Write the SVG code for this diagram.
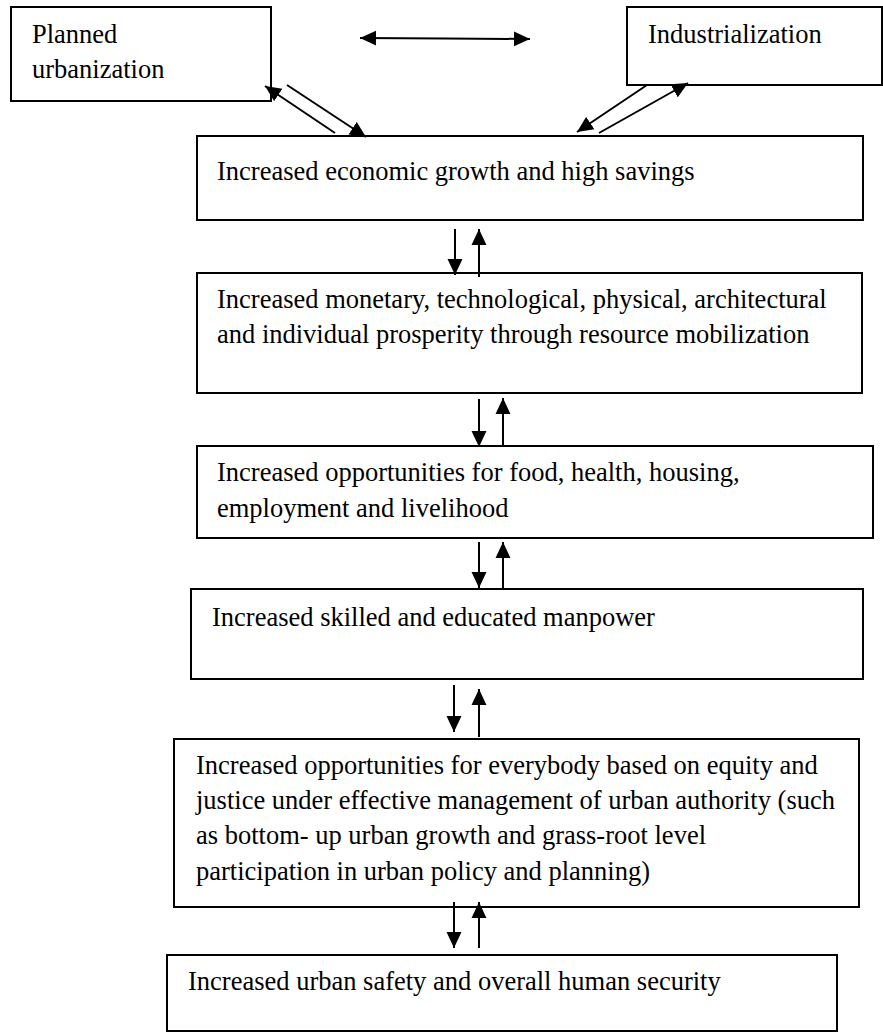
<svg xmlns="http://www.w3.org/2000/svg" width="883" height="1032" viewBox="0 0 883 1032">
<style>
.box{fill:#fff;stroke:#000;stroke-width:2}
.t{font-family:"Liberation Serif","Times New Roman",serif;font-size:26.5px;fill:#000}
.c{stroke:#000;stroke-width:2;fill:none}
</style>
<defs>
<marker id="ah" markerUnits="userSpaceOnUse" markerWidth="16" markerHeight="16" viewBox="0 0 15 14" refX="15" refY="7" orient="auto">
<path d="M0,0 L15,7 L0,14 z" fill="#000"/>
</marker>
</defs>
<rect width="883" height="1032" fill="#fff"/>
<g id="n-planned">
<rect class="box" x="11" y="7" width="260" height="94"/>
<text class="t" x="32" y="43">Planned</text>
<text class="t" x="32" y="78">urbanization</text>
</g>
<g id="n-industrialization">
<rect class="box" x="627" y="7" width="255" height="78"/>
<text class="t" x="648" y="43">Industrialization</text>
</g>
<g id="n-growth">
<rect class="box" x="197" y="136" width="666" height="84"/>
<text class="t" x="217" y="180">Increased economic growth and high savings</text>
</g>
<g id="n-prosperity">
<rect class="box" x="197" y="273" width="665" height="120"/>
<text class="t" x="217" y="308">Increased monetary, technological, physical, architectural</text>
<text class="t" x="217" y="343">and individual prosperity through resource mobilization</text>
</g>
<g id="n-opportunities">
<rect class="box" x="197" y="446" width="676" height="92"/>
<text class="t" x="217" y="481">Increased opportunities for food, health, housing,</text>
<text class="t" x="217" y="517">employment and livelihood</text>
</g>
<g id="n-manpower">
<rect class="box" x="191" y="589" width="672" height="90"/>
<text class="t" x="212" y="626">Increased skilled and educated manpower</text>
</g>
<g id="n-equity">
<rect class="box" x="174" y="739" width="685" height="168"/>
<text class="t" x="196" y="774">Increased opportunities for everybody based on equity and</text>
<text class="t" x="196" y="809">justice under effective management of urban authority (such</text>
<text class="t" x="196" y="844">as bottom- up urban growth and grass-root level</text>
<text class="t" x="196" y="880">participation in urban policy and planning)</text>
</g>
<g id="n-security">
<rect class="box" x="167" y="955" width="670" height="76"/>
<text class="t" x="188" y="990">Increased urban safety and overall human security</text>
</g>
<g id="connectors">
<line class="c" x1="445" y1="38.5" x2="360" y2="38" marker-end="url(#ah)"/>
<line class="c" x1="445" y1="38.5" x2="530" y2="39" marker-end="url(#ah)"/>
<line class="c" x1="335" y1="133" x2="265" y2="86" marker-end="url(#ah)"/>
<line class="c" x1="287" y1="85" x2="366" y2="137" marker-end="url(#ah)"/>
<line class="c" x1="647" y1="85" x2="577" y2="132" marker-end="url(#ah)"/>
<line class="c" x1="599" y1="133" x2="688" y2="83" marker-end="url(#ah)"/>
<line class="c" x1="455" y1="229" x2="455" y2="275" marker-end="url(#ah)"/>
<line class="c" x1="479" y1="277" x2="479" y2="229" marker-end="url(#ah)"/>
<line class="c" x1="479" y1="399" x2="479" y2="447" marker-end="url(#ah)"/>
<line class="c" x1="503" y1="446" x2="503" y2="398" marker-end="url(#ah)"/>
<line class="c" x1="479" y1="542" x2="479" y2="588" marker-end="url(#ah)"/>
<line class="c" x1="503" y1="589" x2="503" y2="542" marker-end="url(#ah)"/>
<line class="c" x1="454" y1="685" x2="454" y2="732" marker-end="url(#ah)"/>
<line class="c" x1="479" y1="737" x2="479" y2="689" marker-end="url(#ah)"/>
<line class="c" x1="454" y1="902" x2="454" y2="948" marker-end="url(#ah)"/>
<line class="c" x1="479" y1="948" x2="479" y2="902" marker-end="url(#ah)"/>
</g>
</svg>
